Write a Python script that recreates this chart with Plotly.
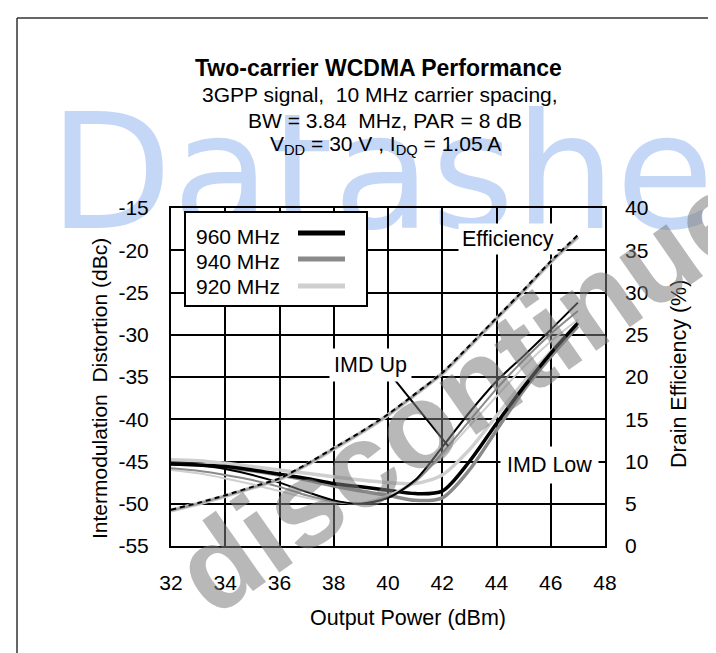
import plotly.graph_objects as go

# ---------------- data ----------------
pout = [32, 33, 34, 35, 36, 37, 38, 39, 40, 41, 42, 43, 44, 45, 46, 47]

imd_up_960 = [-45.2, -45.4, -45.9, -46.6, -47.5, -48.6, -49.6, -50.0, -49.3, -47.2, -43.3, -39.2, -35.5, -32.5, -29.4, -26.2]
imd_up_940 = [-45.8, -46.1, -46.6, -47.2, -48.0, -49.0, -49.7, -50.0, -49.2, -47.4, -44.0, -40.2, -36.4, -33.0, -29.9, -27.2]
imd_up_920 = [-46.0, -46.4, -47.0, -47.7, -48.5, -49.3, -49.8, -49.9, -49.0, -47.3, -44.3, -40.8, -37.3, -33.8, -30.8, -28.2]

imd_low_960 = [-45.3, -45.4, -45.6, -46.0, -46.5, -47.0, -47.6, -48.0, -48.4, -48.8, -48.5, -45.0, -40.5, -36.2, -32.2, -28.6]
imd_low_940 = [-45.3, -45.4, -45.7, -46.1, -46.6, -47.2, -47.9, -48.5, -49.0, -49.6, -49.3, -46.0, -41.3, -36.6, -32.6, -29.0]
imd_low_920 = [-44.8, -44.9, -45.2, -45.6, -46.0, -46.4, -46.8, -47.2, -47.5, -47.6, -46.6, -43.6, -39.6, -35.6, -32.0, -28.8]

eff_960 = [4.3, 5.1, 6.0, 7.0, 8.0, 9.7, 11.6, 13.5, 15.6, 18.0, 20.5, 23.7, 27.0, 30.3, 33.7, 36.8]
eff_940 = [4.2, 5.0, 5.9, 6.9, 7.9, 9.6, 11.5, 13.4, 15.5, 17.9, 20.4, 23.6, 26.9, 30.2, 33.6, 36.6]
eff_920 = [4.2, 5.0, 5.9, 6.9, 7.9, 9.6, 11.5, 13.4, 15.5, 17.9, 20.4, 23.6, 26.9, 30.2, 33.6, 36.6]

x_ticks = [32, 34, 36, 38, 40, 42, 44, 46, 48]
imd_ticks = [-15, -20, -25, -30, -35, -40, -45, -50, -55]
imd_tick_text = ["-15", "-20", "-25", "-30", "-35", "-40", "-45", "-50", "-55"]
eff_ticks = [0, 5, 10, 15, 20, 25, 30, 35, 40]

legend_names = ["960 MHz", "940 MHz", "920 MHz"]
colors = ["#000000", "#8a8a8a", "#cfcfcf"]

FONT = "Liberation Sans, Arial, sans-serif"
W, H = 716.0, 653.0
L, R, T, B = 163, 119, 200, 115
PW, PH = W - L - R, H - T - B


def px(x):
    return (x - L) / PW


def py(y):
    return (H - B - y) / PH


fig = go.Figure()

# IMD low (thicker)
for ys, c in zip([imd_low_920, imd_low_940, imd_low_960], [colors[2], colors[1], colors[0]]):
    fig.add_trace(go.Scatter(x=pout, y=ys, mode="lines",
                             line=dict(color=c, width=3.5, shape="spline", smoothing=0.8),
                             showlegend=False, hoverinfo="skip"))
# IMD up (thinner)
for ys, c in zip([imd_up_920, imd_up_940, imd_up_960], [colors[2], colors[1], colors[0]]):
    fig.add_trace(go.Scatter(x=pout, y=ys, mode="lines",
                             line=dict(color=c, width=2, shape="spline", smoothing=0.8),
                             showlegend=False, hoverinfo="skip"))

# Efficiency
fig.add_trace(go.Scatter(x=pout, y=eff_920, yaxis="y2", mode="lines",
                         line=dict(color="#c8c8c8", width=4, shape="spline", smoothing=0.6),
                         showlegend=False, hoverinfo="skip"))
fig.add_trace(go.Scatter(x=pout, y=eff_940, yaxis="y2", mode="lines",
                         line=dict(color="#9a9a9a", width=2, shape="spline", smoothing=0.6),
                         showlegend=False, hoverinfo="skip"))
fig.add_trace(go.Scatter(x=pout, y=eff_960, yaxis="y2", mode="lines",
                         line=dict(color="#000000", width=2, dash="5px,4px", shape="spline", smoothing=0.6),
                         showlegend=False, hoverinfo="skip"))

shapes = []
annotations = []

# blue watermark, beneath the plot
shapes.append(dict(type="rect", xref="paper", yref="paper", x0=px(38), x1=px(1000), y0=py(70), y1=py(236),
                   line=dict(width=0), fillcolor="rgba(0,0,0,0)", layer="below",
                   label=dict(text="Datasheet", textposition="middle left", padding=0,
                              font=dict(size=160, color="rgba(150,182,240,0.55)",
                                        family="DejaVu Sans, Verdana, sans-serif"))))

# legend box
shapes.append(dict(type="rect", xref="paper", yref="paper", x0=px(177), x1=px(359), y0=py(298), y1=py(204),
                   line=dict(color="black", width=2), fillcolor="white", layer="above"))
leg_text_y = [228, 253, 278]
leg_line_y = [225, 251, 278]
for name, c, ty, ly in zip(legend_names, colors, leg_text_y, leg_line_y):
    annotations.append(dict(x=px(186), y=py(ty), xref="paper", yref="paper", text=name, showarrow=False,
                            xanchor="left", yanchor="middle",
                            font=dict(size=21, color="black", family=FONT)))
    shapes.append(dict(type="line", xref="paper", yref="paper", x0=px(290), x1=px(337), y0=py(ly), y1=py(ly),
                       line=dict(color=c, width=5), layer="above"))

# curve labels
annotations.append(dict(x=px(500), y=py(231), xref="paper", yref="paper", text="Efficiency", showarrow=False,
                        xanchor="center", yanchor="middle",
                        bgcolor="white", borderpad=3, font=dict(size=21.5, color="black", family=FONT)))
annotations.append(dict(x=px(362), y=py(357), xref="paper", yref="paper", text="IMD Up", showarrow=False,
                        xanchor="center", yanchor="middle",
                        bgcolor="white", borderpad=4, font=dict(size=21.5, color="black", family=FONT)))
shapes.append(dict(type="line", xref="x", yref="y", x0=40.26, y0=-35.36, x1=42.22, y1=-43.17,
                   line=dict(color="black", width=2), layer="above"))
annotations.append(dict(x=px(541), y=py(457), xref="paper", yref="paper", text="IMD Low", showarrow=False,
                        xanchor="center", yanchor="middle",
                        bgcolor="white", borderpad=6, font=dict(size=21.5, color="black", family=FONT)))

# frame of the whole picture
shapes.append(dict(type="line", xref="paper", yref="paper", x0=px(9), x1=px(9), y0=py(10), y1=py(H + 5),
                   line=dict(color="#333333", width=1.5)))
shapes.append(dict(type="line", xref="paper", yref="paper", x0=px(9), x1=px(W + 5), y0=py(10), y1=py(10),
                   line=dict(color="#333333", width=1.5)))

# title block
texts = ["<b>Two-carrier WCDMA Performance</b>",
         "3GPP signal,  10 MHz carrier spacing,",
         "BW = 3.84  MHz, PAR = 8 dB",
         "V<sub>DD</sub> = 30 V , I<sub>DQ</sub> = 1.05 A"]
title_y = [60, 87, 112, 137]
title_x = [185, 192, 238, 260]
sizes = [23, 21, 21, 21]
for t, ty, tx, s in zip(texts, title_y, title_x, sizes):
    annotations.append(dict(x=px(tx), y=py(ty), xref="paper", yref="paper", text=t, showarrow=False,
                            xanchor="left", yanchor="middle",
                            font=dict(size=s, color="black", family=FONT)))

# axis titles
annotations.append(dict(x=px(400), y=py(610), xref="paper", yref="paper", text="Output Power (dBm)",
                        showarrow=False, xanchor="center", yanchor="middle",
                        font=dict(size=21.5, color="black", family=FONT)))
annotations.append(dict(x=px(91), y=py(381), xref="paper", yref="paper",
                        text="Intermodulation  Distortion (dBc)", textangle=-90,
                        showarrow=False, xanchor="center", yanchor="middle",
                        font=dict(size=21, color="black", family=FONT)))
annotations.append(dict(x=px(671), y=py(366), xref="paper", yref="paper",
                        text="Drain Efficiency (%)", textangle=-90,
                        showarrow=False, xanchor="center", yanchor="middle",
                        font=dict(size=21.5, color="black", family=FONT)))

# grey watermark on top
annotations.append(dict(x=px(486), y=py(363), xref="paper", yref="paper", text="<b>discontinued</b>",
                        showarrow=False, textangle=-35, xanchor="center", yanchor="middle",
                        font=dict(size=120, color="rgba(125,125,125,0.55)", family=FONT)))

fig.update_layout(
    width=716, height=653,
    margin=dict(l=L, r=R, t=T, b=B, autoexpand=False),
    paper_bgcolor="white", plot_bgcolor="rgba(0,0,0,0)",
    font=dict(family=FONT, size=21, color="black"),
    showlegend=False,
    xaxis=dict(range=[32, 48], tickvals=x_ticks, showgrid=True, gridcolor="black", gridwidth=2,
               showline=True, linecolor="black", linewidth=2, mirror=True, ticks="",
               ticklabelstandoff=17, zeroline=False, tickfont=dict(size=21)),
    yaxis=dict(range=[-55, -15], tickvals=imd_ticks, ticktext=imd_tick_text, showgrid=True,
               gridcolor="black", gridwidth=2,
               showline=True, linecolor="black", linewidth=2, mirror=True, ticks="",
               ticklabelstandoff=16, zeroline=False, tickfont=dict(size=21)),
    yaxis2=dict(range=[0, 40], tickvals=eff_ticks, overlaying="y", side="right", showgrid=False,
                ticks="", ticklabelstandoff=19, zeroline=False, showline=False, tickfont=dict(size=21)),
    shapes=shapes,
    annotations=annotations,
)

fig.write_html("out.html")
